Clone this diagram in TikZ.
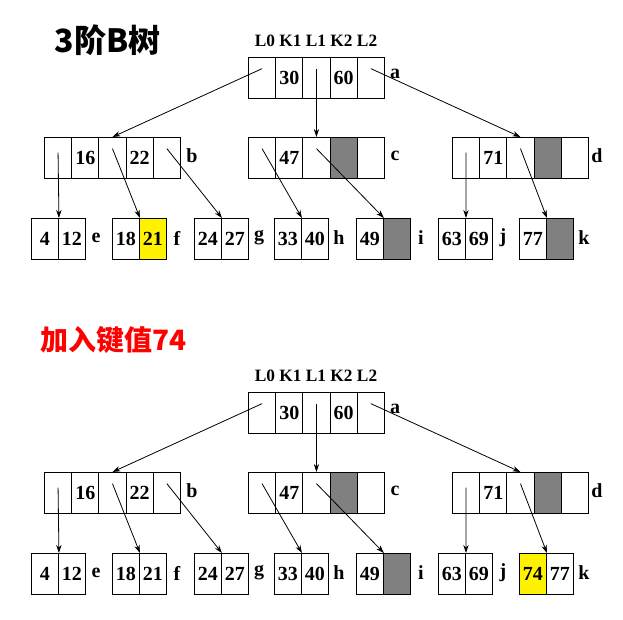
\documentclass[tikz,border=0pt]{standalone}
\usepackage{fontspec}
\setmainfont{Liberation Serif}
\newfontfamily\cjk{Noto Sans CJK SC}
\usetikzlibrary{arrows.meta}
\tikzset{
 cellbox/.style={draw,line width=0.7pt,minimum width=27.2*0.75pt,minimum height=41*0.75pt,inner sep=0pt,font=\bfseries\fontsize{15}{15}\selectfont,anchor=north west},
 leafbox/.style={cellbox,minimum width=27*0.75pt},
 gcell/.style={fill=black!50},
 ycell/.style={fill=yellow},
 lbl/.style={font=\bfseries\fontsize{15}{15}\selectfont},
 arr/.style={-{Stealth[length=6pt,width=4pt]},line width=0.6pt}
}
\newcommand\drawtree[4]{% prefix, yoffset, f fields, k fields
\begin{scope}[yshift=-#2*0.75pt]
 \node[lbl,font=\bfseries\fontsize{13}{13}\selectfont] (#1hd) at (316,41) {L0 K1 L1 K2 L2};
 \foreach \i/\t in {0/,1/30,2/,3/60,4/}{\node[cellbox] (#1r\i) at (248+27.2*\i,57) {\t};}
 \node[lbl] (#1la) at (395,74) {a};
 \foreach \i/\t in {0/,1/16,2/,3/22,4/}{\node[cellbox] (#1b\i) at (44+27.2*\i,137) {\t};}
 \node[lbl] (#1lb) at (192,156) {b};
 \foreach \i/\t/\f in {0//,1/47/,2//,3//gcell,4//}{\node[cellbox,\f] (#1c\i) at (248+27.2*\i,137) {\t};}
 \node[lbl] (#1lc) at (395,156) {c};
 \foreach \i/\t/\f in {0//,1/71/,2//,3//gcell,4//}{\node[cellbox,\f] (#1d\i) at (452+27.2*\i,137) {\t};}
 \node[lbl] (#1ld) at (597,156) {d};
 \foreach \n/\x/\p/\q/\f/\g in {e/31/4/12//,f/112/18/#3,g/194/24/27//,h/274/33/40//,i/356/49///gcell,j/438/63/69//,k/519/#4}{
   \node[leafbox,\f] (#1\n0) at (\x,218) {\p};
   \node[leafbox,\g] (#1\n1) at (\x+27,218) {\q};
   \node[lbl] (#1l\n) at (\x+65,238) {\n};
 }
 \draw[arr] ([yshift=7pt]#1r0.center) -- (#1b2.north);
 \draw[arr] ([yshift=7pt]#1r2.center) -- (#1c2.north);
 \draw[arr] ([yshift=7pt]#1r4.center) -- (#1d2.north);
 \draw[arr] ([yshift=4pt]#1b0.center) -- (#1e0.north east);
 \draw[arr] ([yshift=7pt]#1b2.center) -- (#1f0.north east);
 \draw[arr] ([yshift=7pt]#1b4.center) -- (#1g0.north east);
 \draw[arr] ([yshift=7pt]#1c0.center) -- (#1h0.north east);
 \draw[arr] ([yshift=7pt]#1c2.center) -- (#1i0.north east);
 \draw[arr] ([yshift=4pt]#1d0.center) -- (#1j0.north east);
 \draw[arr] ([yshift=7pt]#1d2.center) -- (#1k0.north east);
\end{scope}}
\begin{document}
\begin{tikzpicture}[x=0.75pt,y=-0.75pt]
\useasboundingbox (0,0) rectangle (623,619);
\node[anchor=west,font=\cjk\bfseries\fontsize{24}{24}\selectfont] (t1) at (50,40) {3阶B树};
\node[anchor=west,text=red,font=\cjk\bfseries\fontsize{21}{21}\selectfont] (t2) at (36,340) {加入键值74};
\drawtree{u}{0}{21//ycell}{77///gcell}
\drawtree{w}{335}{21//}{74/77/ycell/}
\end{tikzpicture}
\end{document}
